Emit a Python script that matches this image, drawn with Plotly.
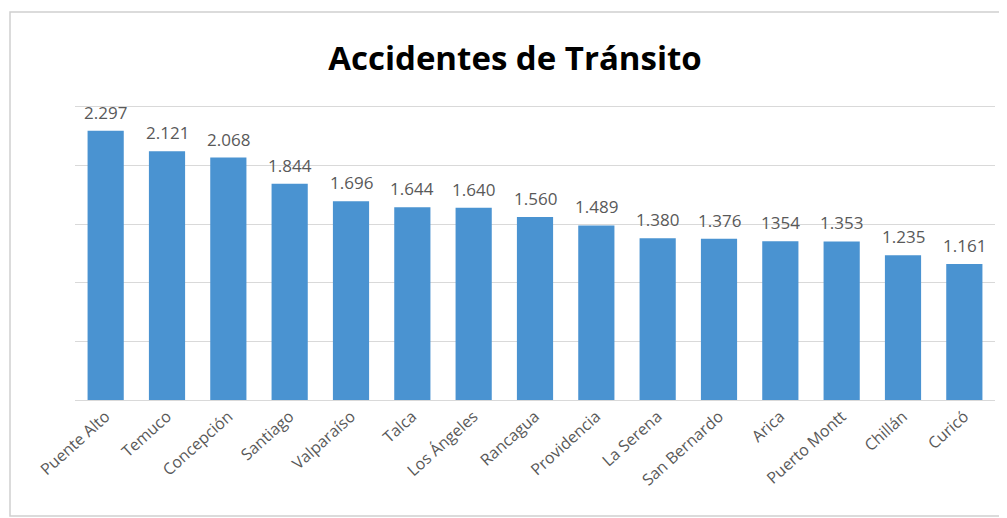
import plotly.graph_objects as go

ciudades = ["Puente Alto", "Temuco", "Concepción", "Santiago", "Valparaíso", "Talca",
            "Los Ángeles", "Rancagua", "Providencia", "La Serena", "San Bernardo",
            "Arica", "Puerto Montt", "Chillán", "Curicó"]
accidentes = [2297, 2121, 2068, 1844, 1696, 1644, 1640, 1560, 1489, 1380, 1376, 1354, 1353, 1235, 1161]
etiquetas = ["2.297", "2.121", "2.068", "1.844", "1.696", "1.644", "1.640", "1.560", "1.489",
             "1.380", "1.376", "1354", "1.353", "1.235", "1.161"]
y_ticks = [0, 500, 1000, 1500, 2000, 2500]

OFF = 8  # page body margin
W, H = 999, 510
Y_MAX = 2525
px_per_unit = (400 - 107) / 2500
L = 75 - OFF
R = W - (995 - OFF)
T = round(107 - (Y_MAX - 2500) * px_per_unit) - OFF
B = H - (400 - OFF)
pw = W - L - R
ph = H - T - B

fig = go.Figure(go.Bar(
    x=ciudades, y=accidentes,
    marker=dict(color="#4A93D1", line=dict(width=0)),
    cliponaxis=False,
))

annotations = [dict(x=c, y=v, text=t, xref="x", yref="y", showarrow=False,
                    yanchor="bottom", yshift=5,
                    font=dict(color="#595959", size=17, family="Open Sans"))
               for c, v, t in zip(ciudades, accidentes, etiquetas)]

fig.update_layout(
    width=W, height=H,
    margin=dict(l=L, r=R, t=T, b=B, autoexpand=False),
    paper_bgcolor="white", plot_bgcolor="white",
    bargap=0.41,
    showlegend=False,
    annotations=annotations,
    title=dict(text="<b>Accidentes de Tránsito</b>", x=(515 - OFF) / W, xanchor="center",
               y=1 - (58 - OFF) / H, yanchor="middle",
               font=dict(size=33, color="black", family="Open Sans")),
    xaxis=dict(tickangle=-42, tickfont=dict(color="#595959", size=16, family="Open Sans"),
               showline=True, linecolor="#D9D9D9", ticks="", ticklen=0, automargin=False),
    yaxis=dict(range=[0, Y_MAX], tickvals=y_ticks, showticklabels=False,
               showgrid=True, gridcolor="#D9D9D9", gridwidth=1, zeroline=False,
               automargin=False),
    shapes=[dict(type="rect", xref="paper", yref="paper",
                 x0=(10 - OFF - L) / pw, x1=(W - 1 - L) / pw,
                 y0=(H - B - (516 - OFF)) / ph, y1=(H - B - (12 - OFF)) / ph,
                 line=dict(color="#D0D0D0", width=1.5), layer="below")],
)

fig.write_html("out.html")
